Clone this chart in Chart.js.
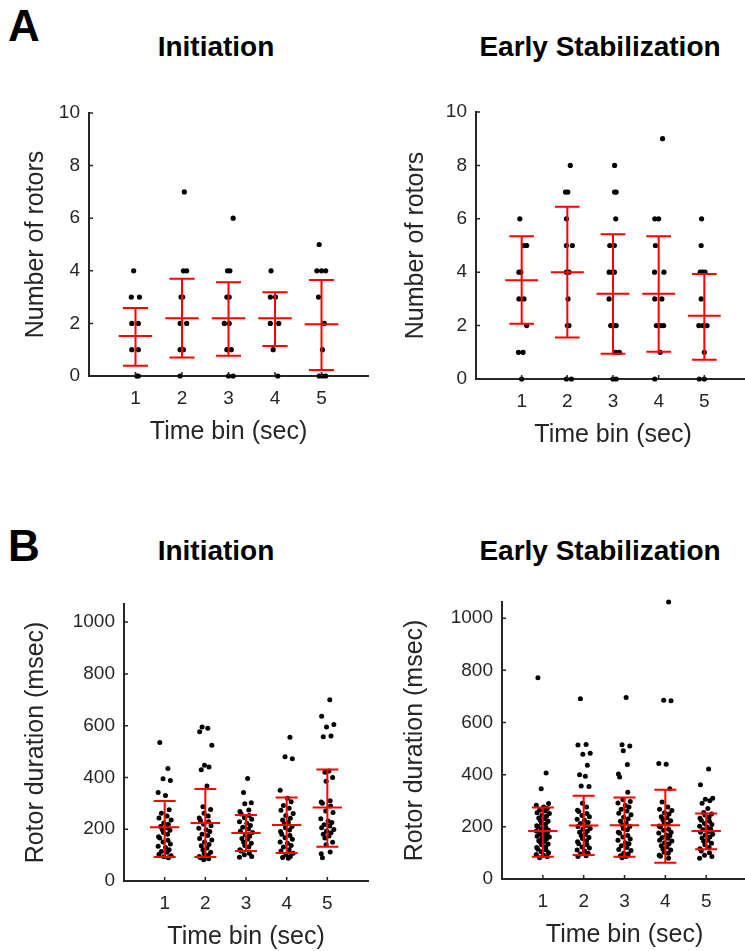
<!DOCTYPE html>
<html>
<head>
<meta charset="utf-8">
<script src="https://cdn.jsdelivr.net/npm/chart.js@4.4.1/dist/chart.umd.min.js"></script>
<style>
  html, body { margin:0; padding:0; background:#fff; }
  body { width:745px; height:951px; position:relative; overflow:hidden; font-family:"Liberation Sans", Arial, sans-serif; }
  canvas { position:absolute; }
  .lbl { position:absolute; font-weight:bold; color:#000; white-space:nowrap; line-height:1; }
  .panel { font-size:44px; }
  .ttl { font-size:28px; transform:translateX(-50%); }
</style>
</head>
<body>
<div class="lbl panel" style="left:8px; top:4px;">A</div>
<div class="lbl panel" style="left:8px; top:524px;">B</div>
<div class="lbl ttl" style="left:216px; top:33px;">Initiation</div>
<div class="lbl ttl" style="left:600px; top:33px;">Early Stabilization</div>
<div class="lbl ttl" style="left:216px; top:537px;">Initiation</div>
<div class="lbl ttl" style="left:600px; top:537px;">Early Stabilization</div>

<canvas id="aL" width="372" height="367" style="left:0px; top:80px;"></canvas>
<canvas id="aR" width="364" height="370" style="left:390px; top:80px;"></canvas>
<canvas id="bL" width="372" height="392" style="left:0px; top:560px;"></canvas>
<canvas id="bR" width="361" height="390" style="left:390px; top:560px;"></canvas>

<script>
// ---------------- DATA ----------------
const CATEGORIES = [1, 2, 3, 4, 5];
const X_TICKS = [1, 2, 3, 4, 5];
const Y_TICKS_COUNT = [0, 2, 4, 6, 8, 10];
const Y_TICKS_DURATION = [0, 200, 400, 600, 800, 1000];

// A, Initiation: number of rotors per category (values) and horizontal jitter
const initCountValues = [
  [4, 3, 3, 2, 2, 1, 1, 0, 0],
  [7, 4, 4, 3, 3, 2, 2, 1, 1, 0],
  [6, 4, 4, 3, 3, 2, 2, 1, 1, 0, 0],
  [4, 3, 3, 2, 2, 1, 0],
  [5, 4, 4, 4, 3, 2, 1, 0, 0, 0]
];
const initCountJitter = [
  [-0.04, -0.09, 0.085, -0.08, 0.06, -0.08, 0.06, 0.03, 0.06],
  [0.05, 0.03, 0.1, -0.02, 0.015, -0.04, 0.1, -0.04, 0.03, -0.04],
  [0.1, -0.02, 0.03, -0.035, 0.015, -0.09, 0.015, -0.035, 0.06, 0, 0.1],
  [-0.085, -0.1, 0.01, -0.1, 0.08, -0.04, 0.06],
  [-0.05, -0.1, 0, 0.09, -0.065, 0.06, 0.02, -0.05, 0.02, 0.09]
];
const initCountMean = [1.52, 2.2, 2.2, 2.2, 1.97];
const initCountLow  = [0.39, 0.7, 0.77, 1.14, 0.23];
const initCountHigh = [2.59, 3.7, 3.56, 3.18, 3.65];

// A, Early Stabilization
const earlyCountValues = [
  [6, 5, 5, 4, 4, 3, 3, 2, 1, 1, 0],
  [8, 7, 7, 6, 5, 5, 4, 4, 3, 2, 2, 0, 0],
  [8, 7, 7, 6, 5, 5, 4, 4, 4, 3, 2, 2, 2, 1, 1, 0, 0],
  [9, 6, 6, 5, 4, 4, 3, 3, 2, 2, 2, 1, 0],
  [6, 5, 4, 4, 4, 3, 2, 2, 2, 1, 0, 0]
];
const earlyCountJitter = [
  [-0.04, 0.05, 0.11, -0.06, -0.02, -0.06, 0.05, 0.11, -0.07, 0.03, 0],
  [0.065, -0.04, 0.01, -0.02, -0.02, 0.11, -0.02, 0.035, 0.015, 0, 0.035, -0.02, 0.09],
  [0.035, 0.035, 0.07, 0.06, -0.07, 0.03, -0.085, -0.015, 0.03, -0.085, -0.05, 0.03, 0.07, 0.06, 0.14, 0, 0.07],
  [0.085, -0.085, 0, -0.07, -0.09, 0.115, -0.085, 0.07, -0.05, 0.05, 0.11, 0.035, -0.085],
  [-0.06, -0.07, -0.09, -0.035, 0.015, -0.07, -0.12, -0.035, 0.06, 0, -0.11, 0]
];
const earlyCountMean = [3.7, 4.0, 3.19, 3.19, 2.37];
const earlyCountLow  = [2.07, 1.55, 0.95, 1.02, 0.72];
const earlyCountHigh = [5.35, 6.45, 5.42, 5.35, 3.93];

// B, Initiation: rotor duration (msec)
const initDurValues = [
  [535, 435, 395, 388, 342, 330, 275, 262, 251, 243, 236, 224, 219, 211, 206, 199, 196, 187, 181, 171, 166, 157, 151, 143, 134, 129, 121, 114, 111, 103, 98, 94, 90],
  [595, 590, 577, 524, 447, 440, 430, 367, 287, 276, 262, 251, 243, 234, 229, 219, 213, 204, 198, 191, 181, 176, 164, 158, 151, 141, 136, 127, 121, 111, 106, 99, 95, 90, 86, 82],
  [396, 342, 302, 298, 274, 268, 259, 253, 244, 239, 229, 223, 214, 208, 201, 192, 187, 179, 173, 164, 161, 151, 146, 137, 131, 121, 116, 107, 101, 95, 92],
  [555, 480, 472, 351, 320, 306, 292, 281, 273, 261, 253, 242, 236, 227, 221, 211, 206, 197, 191, 181, 176, 167, 161, 151, 146, 137, 131, 121, 116, 107, 101, 95, 91, 88],
  [700, 636, 605, 595, 560, 557, 425, 420, 400, 385, 310, 305, 300, 290, 270, 265, 240, 232, 226, 217, 212, 206, 199, 193, 186, 181, 174, 166, 150, 140, 112, 105, 90]
];
const initDurMean = [208, 224, 185, 216, 284];
const initDurLow  = [93, 93, 116, 108, 132];
const initDurHigh = [309, 355, 255, 323, 431];

// B, Early Stabilization
const earlyDurValues = [
  [772, 406, 346, 289, 283, 276, 270, 264, 261, 254, 251, 244, 241, 234, 231, 224, 221, 214, 211, 204, 201, 196, 193, 187, 184, 181, 176, 173, 167, 164, 161, 156, 153, 147, 144, 141, 134, 131, 124, 121, 114, 111, 104, 101, 94, 91, 85, 81],
  [691, 516, 514, 482, 478, 436, 400, 394, 357, 355, 290, 276, 264, 259, 251, 243, 239, 229, 225, 217, 213, 205, 201, 194, 191, 183, 179, 171, 167, 159, 155, 147, 143, 135, 131, 123, 119, 111, 107, 99, 96, 89, 86],
  [696, 515, 510, 492, 439, 403, 391, 333, 305, 297, 291, 282, 276, 267, 261, 252, 246, 237, 231, 221, 216, 207, 201, 194, 189, 179, 175, 167, 161, 153, 149, 139, 135, 127, 121, 113, 109, 99, 96, 89, 86, 81],
  [1062, 685, 683, 443, 440, 346, 295, 276, 267, 263, 254, 249, 239, 235, 227, 223, 215, 211, 203, 199, 191, 187, 179, 176, 169, 166, 159, 156, 149, 146, 139, 135, 127, 123, 115, 111, 103, 99, 91, 87, 80],
  [422, 361, 310, 306, 300, 290, 270, 255, 249, 245, 237, 233, 225, 221, 213, 209, 202, 199, 192, 189, 182, 179, 172, 169, 161, 157, 149, 145, 137, 131, 121, 116, 107, 101, 91, 86, 80]
];
const earlyDurMean = [184, 205, 206, 206, 184];
const earlyDurLow  = [85, 92, 85, 62, 114];
const earlyDurHigh = [274, 319, 312, 342, 251];

// style constant: horizontal scatter offsets (category units) for the dense duration clouds
const DENSE_JITTER = [-0.12, 0.08, -0.04, 0.14, -0.16, 0.02, 0.11, -0.08, 0.06, -0.14, 0.16, -0.02, 0.09, -0.1, 0.04, -0.06, 0.13, -0.03, 0.07, -0.15];

// ---------------- DRAWING ----------------
const AXIS = '#262626';
const FONT = '"Liberation Sans", Arial, sans-serif';

function pointsFrom(values, jitter) {
  const pts = [];
  values.forEach((vals, ci) => {
    vals.forEach((v, i) => {
      const j = jitter ? jitter[ci][i] : DENSE_JITTER[(i + ci * 7) % DENSE_JITTER.length];
      pts.push({ x: CATEGORIES[ci] + j, y: v });
    });
  });
  return pts;
}

function errorPath(mean, low, high) {
  const cap = 0.27, half = 0.36;
  const pts = [];
  CATEGORIES.forEach((c, i) => {
    pts.push({x: c, y: low[i]}, {x: c, y: high[i]}, {x: c, y: null});
    pts.push({x: c - cap, y: high[i]}, {x: c + cap, y: high[i]}, {x: c, y: null});
    pts.push({x: c - cap, y: low[i]}, {x: c + cap, y: low[i]}, {x: c, y: null});
    pts.push({x: c - half, y: mean[i]}, {x: c + half, y: mean[i]}, {x: c, y: null});
  });
  return pts;
}

const inwardTicks = {
  id: 'inwardTicks',
  afterDraw(chart) {
    const {ctx, chartArea, scales: {x, y}} = chart;
    ctx.save();
    ctx.strokeStyle = AXIS;
    ctx.lineWidth = 1.5;
    ctx.beginPath();
    y.ticks.forEach(t => {
      const py = y.getPixelForValue(t.value);
      ctx.moveTo(chartArea.left, py); ctx.lineTo(chartArea.left + 4, py);
    });
    x.ticks.forEach(t => {
      const px = x.getPixelForValue(t.value);
      ctx.moveTo(px, chartArea.bottom); ctx.lineTo(px, chartArea.bottom - 4);
    });
    ctx.stroke();
    ctx.restore();
  }
};

function makePanel(id, o) {
  new Chart(document.getElementById(id), {
    type: 'scatter',
    data: {
      datasets: [
        {
          data: errorPath(o.mean, o.low, o.high),
          showLine: true, spanGaps: false,
          borderColor: '#ff0000', borderWidth: 2,
          pointRadius: 0, fill: false, clip: false
        },
        {
          data: pointsFrom(o.values, o.jitter),
          pointRadius: o.r, pointBorderWidth: 0,
          pointBackgroundColor: '#000', borderColor: '#000', clip: false
        }
      ]
    },
    options: {
      responsive: false, animation: false, devicePixelRatio: 1,
      layout: { padding: { top: o.padTop, left: 0, right: 0, bottom: 0 } },
      plugins: { legend: { display: false }, tooltip: { enabled: false } },
      events: [],
      scales: {
        x: {
          type: 'linear', min: 0, max: 6,
          afterBuildTicks: s => { s.ticks = X_TICKS.map(v => ({ value: v })); },
          afterFit: s => { s.height = o.xh; },
          grid: { display: false, drawTicks: false },
          border: { display: true, color: AXIS, width: 2 },
          ticks: { color: AXIS, font: { family: FONT, size: 19 }, padding: 11, maxRotation: 0, autoSkip: false,
                   callback: v => String(v) },
          title: { display: true, text: 'Time bin (sec)', color: AXIS, font: { family: FONT, size: 25 }, padding: 0 }
        },
        y: {
          type: 'linear', min: 0, max: o.ymax,
          afterBuildTicks: s => { s.ticks = o.yticks.map(v => ({ value: v })); },
          afterFit: s => { s.width = o.yw; },
          grid: { display: false, drawTicks: false },
          border: { display: true, color: AXIS, width: 2 },
          ticks: { color: AXIS, font: { family: FONT, size: 19 }, padding: 9, autoSkip: false,
                   callback: v => String(v) },
          title: { display: true, text: o.ytitle, color: AXIS, font: { family: FONT, size: 25 }, padding: { top: o.ytPad, bottom: 0 } }
        }
      }
    },
    plugins: [inwardTicks]
  });
}

makePanel('aL', { values: initCountValues, jitter: initCountJitter, mean: initCountMean, low: initCountLow, high: initCountHigh,
  ymax: 10, yticks: Y_TICKS_COUNT, ytitle: 'Number of rotors', padTop: 33, xh: 71, yw: 89, ytPad: 21, r: 2.6 });
makePanel('aR', { values: earlyCountValues, jitter: earlyCountJitter, mean: earlyCountMean, low: earlyCountLow, high: earlyCountHigh,
  ymax: 10, yticks: Y_TICKS_COUNT, ytitle: 'Number of rotors', padTop: 32, xh: 71, yw: 86, ytPad: 11, r: 2.6 });
makePanel('bL', { values: initDurValues, jitter: null, mean: initDurMean, low: initDurLow, high: initDurHigh,
  ymax: 1070, yticks: Y_TICKS_DURATION, ytitle: 'Rotor duration (msec)', padTop: 44, xh: 71, yw: 124, ytPad: 21, r: 2.5 });
makePanel('bR', { values: earlyDurValues, jitter: null, mean: earlyDurMean, low: earlyDurLow, high: earlyDurHigh,
  ymax: 1062, yticks: Y_TICKS_DURATION, ytitle: 'Rotor duration (msec)', padTop: 42, xh: 71, yw: 112, ytPad: 10, r: 2.5 });
</script>
</body>
</html>
